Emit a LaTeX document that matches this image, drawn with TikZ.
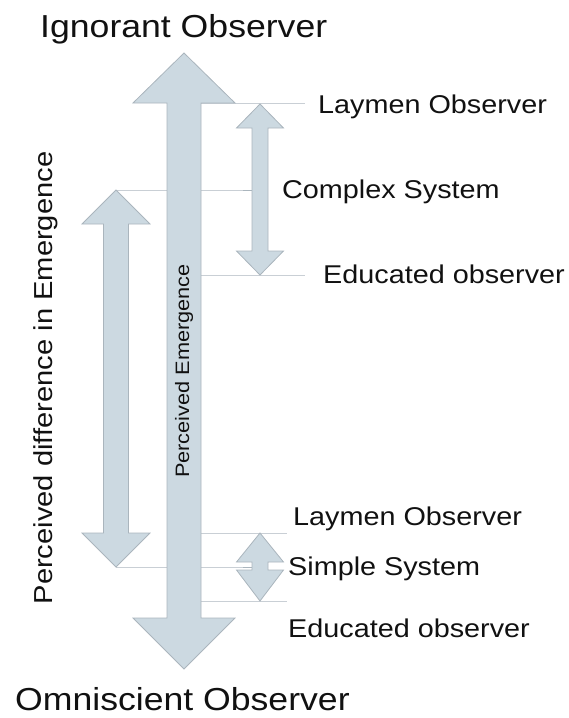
\documentclass[tikz,border=0pt]{standalone}
\usepackage{fontspec}
\setmainfont{Liberation Sans}
\newfontfamily\labfont[FakeStretch=1.12]{Liberation Sans}
\begin{document}
\begin{tikzpicture}[x=1pt,y=-1pt,
  fatarrow/.style={fill=arrowfill,draw=arrowedge,line width=0.8pt,line join=miter},
  guide/.style={draw=guidegray,line width=0.7pt},
  title/.style={inner sep=0pt,anchor=base west,font=\labfont\fontsize{31.8}{36}\selectfont,text=textgray},
  label/.style={inner sep=0pt,anchor=base west,font=\labfont\fontsize{25.7}{30}\selectfont,text=textgray}]
\definecolor{arrowfill}{HTML}{CCD9E1}
\definecolor{arrowedge}{HTML}{AAB5BD}
\definecolor{guidegray}{HTML}{C9CFD5}
\definecolor{textgray}{HTML}{111111}
\useasboundingbox (0,0) rectangle (569,718);

% guide lines behind the arrows
\draw[guide] (201,103) -- (305,103);
\draw[guide] (116,190) -- (252,190);
\draw[guide] (201,275) -- (305,275);
\draw[guide] (201,533) -- (287,533);
\draw[guide] (116,567) -- (252,567);
\draw[guide] (201,601) -- (287,601);
\draw[draw=arrowedge,line width=0.8pt] (243,190) -- (252,190);
\draw[draw=arrowedge,line width=0.8pt] (243,567) -- (252,567);

% perceived emergence (large double arrow)
\draw[fatarrow] (184,53) -- (235,103) -- (201,103) -- (201,618) -- (235,618)
  -- (184,669) -- (133,618) -- (167,618) -- (167,103) -- (133,103) -- cycle;
% perceived difference (left double arrow)
\draw[fatarrow] (116,190) -- (150,224) -- (128.5,224) -- (128.5,533) -- (150,533)
  -- (116,567) -- (82,533) -- (103.5,533) -- (103.5,224) -- (82,224) -- cycle;
% complex system range
\draw[fatarrow] (260,104) -- (283.5,128) -- (268,128) -- (268,251) -- (283.5,251)
  -- (260,275) -- (236.5,251) -- (252,251) -- (252,128) -- (236.5,128) -- cycle;
% simple system range
\draw[fatarrow] (260,533) -- (283.5,562) -- (268,562) -- (268,570) -- (283.5,570)
  -- (260,601) -- (236.5,570) -- (252,570) -- (252,562) -- (236.5,562) -- cycle;

% texts
\node[title] (ign) at (40,37) {Ignorant Observer};
\node[title] (omn) at (15,710) {Omniscient Observer};
\node[label] (lay1) at (318,113) {Laymen Observer};
\node[label] (cplx) at (282,198) {Complex System};
\node[label] (edu1) at (323,283) {Educated observer};
\node[label] (lay2) at (293,525) {Laymen Observer};
\node[label] (smpl) at (288,575) {Simple System};
\node[label] (edu2) at (288,637) {Educated observer};
\node[inner sep=0pt,rotate=90,text=textgray,font=\labfont\fontsize{26}{30}\selectfont]
  (diff) at (46,378) {Perceived difference in Emergence};
\node[inner sep=0pt,rotate=90,text=textgray,font=\labfont\fontsize{19.4}{22}\selectfont]
  (emer) at (184,371) {Perceived Emergence};
\end{tikzpicture}
\end{document}
